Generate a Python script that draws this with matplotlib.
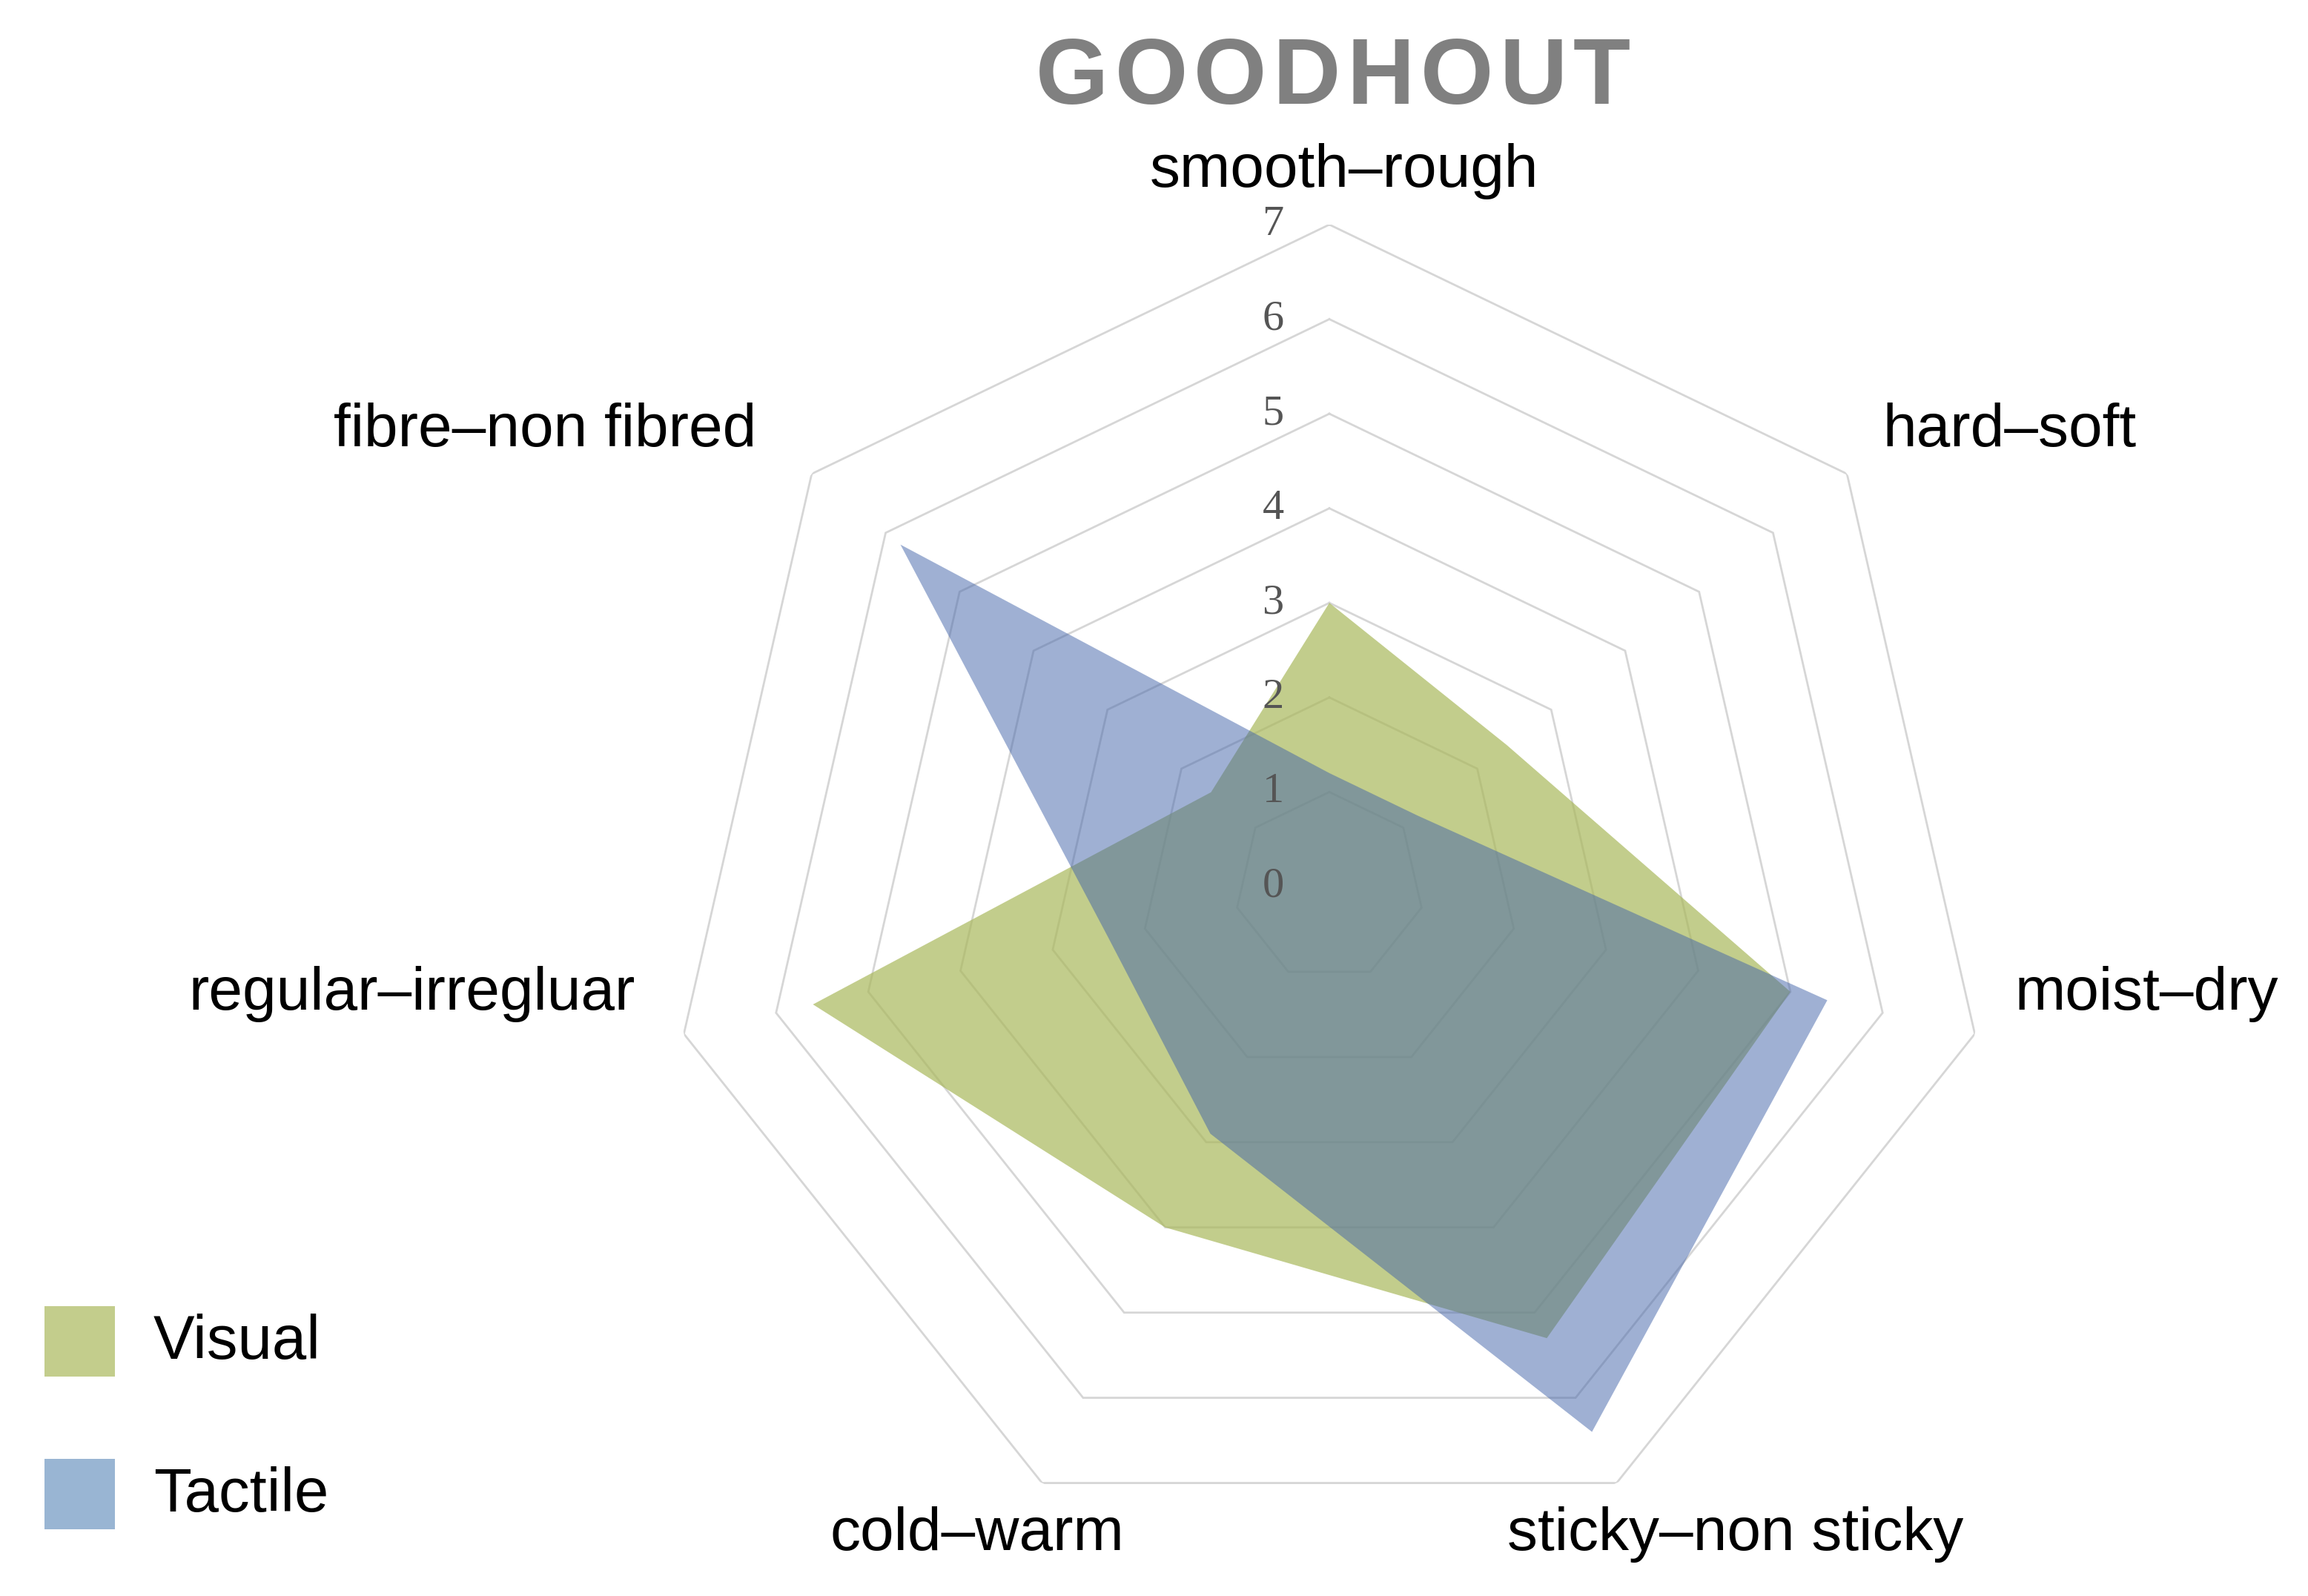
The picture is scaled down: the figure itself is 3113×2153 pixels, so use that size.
import numpy as np
import matplotlib
matplotlib.use("Agg")
import matplotlib.pyplot as plt
from matplotlib.patches import Rectangle
from matplotlib.transforms import offset_copy

# ---------------- data ----------------
categories = ['smooth–rough', 'hard–soft', 'moist–dry', 'sticky–non sticky',
              'cold–warm', 'regular–irregluar', 'fibre–non fibred']
visual = [3.0, 2.4, 5.0, 5.3, 4.0, 5.6, 1.6]
tactile = [1.2, 1.2, 5.4, 6.4, 2.9, 2.4, 5.8]
series_names = ['Visual', 'Tactile']
ring_values = [1, 2, 3, 4, 5, 6, 7]
tick_labels = ['0', '1', '2', '3', '4', '5', '6', '7']
title = 'GOODHOUT'

# ---------------- style ----------------
W, H = 3113, 2153
DPI = 100
green = '#A9B85B'
blue = '#4163A9'
green_alpha = 0.7
blue_alpha = 0.5
legend_green = '#C3CD8C'
legend_blue = '#99B5D3'
grid_color = '#d6d6d6'
sans = ['Liberation Sans', 'DejaVu Sans']
serif = ['Liberation Serif', 'DejaVu Serif']

fig = plt.figure(figsize=(W / DPI, H / DPI), dpi=DPI)
fig.patch.set_facecolor('white')

# polar axes: center (1793, 1196) px, radius 893 px
cx, cy, R = 1793, 1196, 893
ax = fig.add_axes([(cx - R) / W, (H - cy - R) / H, 2 * R / W, 2 * R / H],
                  projection='polar')
ax.set_theta_offset(np.pi / 2)
ax.set_theta_direction(-1)
ax.set_ylim(0, 7)
ax.set_xticks([])
ax.set_yticks([])
ax.grid(False)
ax.spines['polar'].set_visible(False)
ax.patch.set_visible(False)

n = len(categories)
theta = np.linspace(0, 2 * np.pi, n, endpoint=False)
theta_c = np.append(theta, theta[0])

# heptagon grid
for r in ring_values:
    ax.plot(theta_c, [r] * (n + 1), color=grid_color, lw=2.0, zorder=1,
            solid_joinstyle='miter')

# series
ax.fill(theta_c, visual + visual[:1], color=green, alpha=green_alpha, lw=0, zorder=2)
ax.fill(theta_c, tactile + tactile[:1], color=blue, alpha=blue_alpha, lw=0, zorder=3)

# radial tick labels
tr = offset_copy(ax.transData, fig=fig, x=-76, y=0, units='dots')
for i, lab in enumerate(tick_labels):
    ax.text(0, i, lab, transform=tr, ha='center', va='center',
            fontsize=42, family=serif, color='#555555', zorder=5)

# category labels (figure pixel positions: center x, baseline y)
label_pos = [(1813, 252), (2710, 602), (2895, 1362), (2341, 2091),
             (1318, 2091), (556, 1362), (735, 602)]
for lab, (x, y) in zip(categories, label_pos):
    fig.text(x / W, 1 - y / H, lab, ha='center', va='baseline',
             fontsize=59, family=sans, color='black')

# title with letter spacing (spans x 1397..2199 px)
renderer = fig.canvas.get_renderer()
title_kw = dict(fontsize=91, family=sans, weight='bold', color='#808080',
                va='baseline', ha='left')
prefix_w = [0.0]
for k in range(1, len(title) + 1):
    t = fig.text(0, 0, title[:k], **title_kw)
    prefix_w.append(t.get_window_extent(renderer).width)
    t.remove()
t_left, t_right = 1397, 2199
spacing = ((t_right - t_left) - prefix_w[-1]) / (len(title) - 1)
for i, ch in enumerate(title):
    x = t_left + prefix_w[i] + i * spacing
    fig.text(x / W, 1 - 140 / H, ch, **title_kw)

# legend
leg_colors = [legend_green, legend_blue]
leg_y = [1762, 1968]
for name, col, y in zip(series_names, leg_colors, leg_y):
    fig.patches.append(Rectangle((60 / W, 1 - (y + 95) / H), 95 / W, 95 / H,
                                 transform=fig.transFigure, facecolor=col,
                                 edgecolor='none'))
    fig.text(207 / W, 1 - (y + 71) / H, name, ha='left', va='baseline',
             fontsize=60, family=sans, color='black')

fig.savefig('out.png', dpi=DPI, facecolor='white')
